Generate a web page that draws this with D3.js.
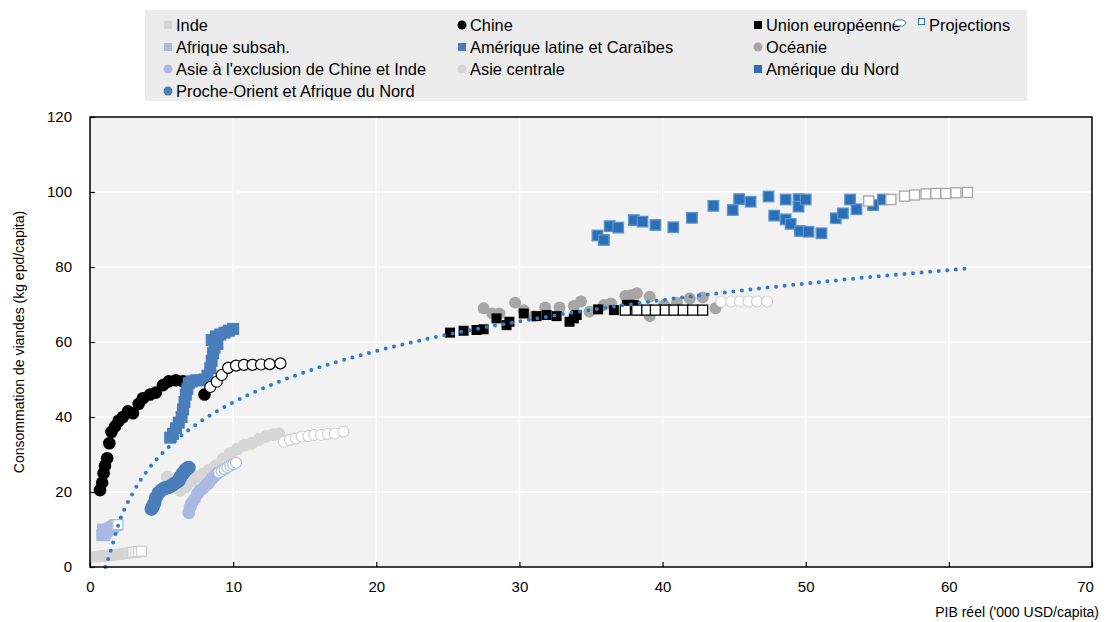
<!DOCTYPE html>
<html>
<head>
<meta charset="utf-8">
<script src="https://cdn.jsdelivr.net/npm/d3@7"></script>
<style>
  body { margin: 0; background: #fff; }
  text { font-family: "Liberation Sans", Arial, sans-serif; fill: #000; }
</style>
</head>
<body>
<div id="app"></div>
<script>
// historical series (x = PIB '000 USD/capita, y = kg epd/capita)
const indeX = [0.4, 0.6, 0.8, 1.0, 1.2, 1.4, 1.6, 1.8, 2.0, 2.2, 2.4, 2.6, 2.8];
const indeY = [2.7, 2.8, 2.9, 3.0, 3.0, 3.1, 3.2, 3.3, 3.4, 3.5, 3.6, 3.7, 3.8];
const indeProjX = [3.0, 3.2, 3.4, 3.6];
const indeProjY = [3.9, 4.0, 4.1, 4.2];

const afriqueX = [0.85, 0.9, 1.0, 1.05, 1.1, 1.2, 1.3, 1.4, 1.5, 1.6, 1.7, 1.8];
const afriqueY = [8.5, 10.0, 8.5, 9.0, 9.5, 9.8, 10.0, 10.3, 10.5, 10.7, 11.0, 11.2];
const afriqueProjX = [1.85, 1.95];
const afriqueProjY = [11.1, 11.3];

const asieX = [6.9, 7.0, 7.1, 7.3, 7.5, 7.7, 7.9, 8.1, 8.3, 8.5, 8.7, 8.9];
const asieY = [14.5, 16.0, 17.0, 18.0, 19.5, 20.5, 21.0, 21.8, 22.5, 23.5, 24.2, 25.0];
const asieProjX = [9.0, 9.2, 9.4, 9.6, 9.8, 10.0, 10.2];
const asieProjY = [25.2, 25.6, 26.1, 26.6, 27.0, 27.4, 27.8];

const procheX = [4.3, 4.4, 4.5, 4.6, 4.8, 5.0, 5.2, 5.4, 5.6, 5.8, 6.0, 6.2, 6.3, 6.4, 6.5, 6.6, 6.7, 6.8, 6.9];
const procheY = [15.5, 16.2, 17.0, 18.5, 19.8, 20.5, 21.0, 21.2, 21.5, 22.0, 22.5, 23.0, 23.8, 24.5, 25.0, 25.5, 26.0, 26.3, 26.5];

const chineX = [0.7, 0.85, 0.95, 1.05, 1.2, 1.35, 1.5, 1.75, 2.0, 2.3, 2.65, 3.0, 3.4, 3.7, 4.2, 4.6, 5.1, 5.5, 6.0, 6.5, 7.0, 8.0];
const chineY = [20.5, 22.5, 25.0, 27.0, 29.0, 33.0, 36.0, 37.5, 39.0, 40.0, 41.5, 41.0, 43.5, 45.0, 46.0, 46.5, 48.5, 49.5, 49.8, 49.5, 49.0, 46.0];
const chineProjX = [8.4, 8.85, 9.2, 9.65, 10.2, 10.75, 11.35, 11.95, 12.55, 13.3];
const chineProjY = [48.0, 49.4, 51.2, 53.1, 53.7, 53.9, 53.9, 54.0, 54.1, 54.3];

const ueX = [25.15, 26.1, 27.0, 27.5, 28.4, 29.1, 29.3, 30.3, 31.2, 31.9, 32.6, 33.5, 33.8, 34.0, 35.5, 36.6, 37.5, 38.0];
const ueY = [62.5, 63.0, 63.2, 63.4, 66.3, 64.5, 65.4, 67.6, 66.9, 67.2, 66.9, 65.4, 66.3, 67.2, 68.7, 68.5, 69.9, 69.9];
const ueProjX = [37.4, 38.2, 38.9, 39.5, 40.2, 40.8, 41.45, 42.1, 42.8];
const ueProjY = [68.5, 68.5, 68.5, 68.5, 68.5, 68.5, 68.5, 68.5, 68.5];

const latamX = [5.6, 5.8, 6.0, 6.2, 6.4, 6.5, 6.6, 6.7, 6.8, 6.9, 7.1, 7.4, 7.7, 8.0, 8.2, 8.4, 8.5, 8.6, 8.7, 8.9, 8.5, 8.8, 9.1, 9.4, 9.7, 10.0];
const latamY = [34.5, 35.5, 37.0, 38.5, 40.0, 42.0, 44.0, 46.0, 47.5, 49.0, 49.5, 49.8, 49.8, 50.0, 51.0, 53.0, 55.0, 57.0, 58.5, 59.5, 60.5, 61.5, 62.0, 62.5, 63.0, 63.5];

const oceanieX = [27.5, 28.1, 28.6, 29.7, 30.3, 31.0, 31.8, 32.8, 33.8, 34.3, 34.9, 35.9, 36.4, 37.4, 37.8, 38.2, 39.1, 39.1, 40.1, 41.0, 41.9, 42.8, 43.7];
const oceanieY = [69.0, 67.6, 67.6, 70.5, 68.5, 66.9, 69.2, 69.2, 69.6, 70.8, 68.1, 69.9, 70.3, 72.3, 72.5, 73.0, 72.1, 66.9, 69.9, 70.5, 71.6, 71.9, 69.0];
const oceanieProjX = [44.1, 44.8, 45.4, 46.0, 46.6, 47.3];
const oceanieProjY = [70.8, 70.8, 70.8, 70.8, 70.8, 70.8];

const centraleX = [5.4, 5.7, 6.0, 6.3, 6.7, 7.1, 7.5, 7.9, 8.3, 8.8, 9.3, 9.8, 10.3, 10.8, 11.3, 11.8, 12.3, 12.8, 13.2];
const centraleY = [24.0, 22.5, 21.5, 20.5, 21.5, 23.0, 24.0, 24.8, 25.8, 27.0, 28.8, 30.3, 31.5, 32.5, 33.0, 34.0, 34.8, 35.3, 35.5];
const centraleProjX = [13.55, 13.97, 14.37, 14.79, 15.25, 15.67, 16.14, 16.6, 17.1, 17.7];
const centraleProjY = [33.4, 33.9, 34.3, 34.8, 34.9, 35.2, 35.2, 35.5, 35.6, 36.1];

const nordX = [35.45, 35.9, 36.3, 36.9, 38.0, 38.6, 39.5, 40.75, 42.05, 43.55, 44.9, 45.35, 46.15, 47.4, 47.8, 48.6, 48.6, 48.95, 49.5, 49.5, 50.0, 49.6, 50.2, 51.1, 52.1, 52.6, 53.55, 54.7, 53.1, 55.4];
const nordY = [88.4, 87.2, 90.9, 90.5, 92.5, 92.1, 91.2, 90.6, 93.1, 96.3, 95.2, 98.1, 97.4, 98.8, 93.7, 98.0, 92.7, 91.5, 98.1, 96.1, 98.0, 89.6, 89.4, 89.0, 93.0, 94.3, 95.4, 96.5, 98.0, 98.0];
const nordProjX = [54.4, 55.95, 56.9, 57.6, 58.4, 59.1, 59.8, 60.5, 61.3];
const nordProjY = [97.6, 98.0, 98.9, 99.2, 99.5, 99.6, 99.6, 99.8, 99.9];

// dotted trend curve
const trendX = [1.08, 1.5, 2, 3, 4, 5, 6, 8, 10, 13, 16, 20, 25, 30, 35, 40, 45, 50, 55, 61.6];
const trendY = [0.0, 5.0, 11.5, 19.8, 25.7, 30.1, 33.8, 39.5, 43.9, 49.1, 53.2, 57.6, 62.0, 65.5, 68.6, 71.2, 73.5, 75.6, 77.5, 79.7];

const xTicks = [0, 10, 20, 30, 40, 50, 60, 70];
const yTicks = [0, 20, 40, 60, 80, 100, 120];

const W = 1105, H = 622;
const m = { left: 90, right: 1092, top: 117, bottom: 567 };

const svg = d3.select("#app").append("svg").attr("width", W).attr("height", H);

const x = d3.scaleLinear().domain([0, 70]).range([m.left, m.right]);
const y = d3.scaleLinear().domain([0, 120]).range([m.bottom, m.top]);

// plot background + grid
svg.append("rect")
  .attr("x", m.left).attr("y", m.top)
  .attr("width", m.right - m.left).attr("height", m.bottom - m.top)
  .attr("fill", "#f2f2f2");

svg.append("g").selectAll("line").data(yTicks.slice(1, -1)).join("line")
  .attr("x1", m.left).attr("x2", m.right)
  .attr("y1", d => y(d)).attr("y2", d => y(d))
  .attr("stroke", "#fff").attr("stroke-width", 1.5);
svg.append("g").selectAll("line").data(xTicks.slice(1, -1)).join("line")
  .attr("y1", m.top).attr("y2", m.bottom)
  .attr("x1", d => x(d)).attr("x2", d => x(d))
  .attr("stroke", "#fff").attr("stroke-width", 1.5);

const plot = svg.append("g");

function pts(xs, ys) { return xs.map((v, i) => [v, ys[i]]); }

function circles(xs, ys, fill, stroke, r) {
  plot.append("g").selectAll("circle").data(pts(xs, ys)).join("circle")
    .attr("cx", d => x(d[0])).attr("cy", d => y(d[1]))
    .attr("r", r || 6)
    .attr("fill", fill)
    .attr("stroke", stroke || "none").attr("stroke-width", 1.2);
}
function squares(xs, ys, fill, stroke, s) {
  s = s || 11;
  plot.append("g").selectAll("rect").data(pts(xs, ys)).join("rect")
    .attr("x", d => x(d[0]) - s / 2).attr("y", d => y(d[1]) - s / 2)
    .attr("width", s).attr("height", s)
    .attr("fill", fill)
    .attr("stroke", stroke || "none").attr("stroke-width", 1.3);
}

squares(indeX, indeY, "#d4d4d4");
circles(centraleX, centraleY, "#d6d6d6", null, 6.5);
circles(procheX, procheY, "#4a7ebb", null, 7);
circles(asieX, asieY, "#a9b9e2", null, 6.5);
squares(afriqueX, afriqueY, "#a9b9e2", null, 12);
circles(chineX, chineY, "#000", null, 6.3);
squares(latamX, latamY, "#4a7ebb", null, 12);
circles(oceanieX, oceanieY, "#a6a6a6");
squares(ueX, ueY, "#000", null, 10);
squares(nordX, nordY, "#2a6fb7", "#5b93cc", 10.5);

// projections
squares(indeProjX, indeProjY, "#fff", "#cfcfcf", 10);
squares(afriqueProjX, afriqueProjY, "#fff", "#a9b9e2", 10);
circles(asieProjX, asieProjY, "#fff", "#a9b9e2", 5.5);
circles(centraleProjX, centraleProjY, "#fff", "#d0d0d0", 5.5);
circles(chineProjX, chineProjY, "#fff", "#000", 5.5);
circles(oceanieProjX, oceanieProjY, "#fff", "#d0d0d0", 5.5);
squares(ueProjX, ueProjY, "#fff", "#000", 10);
squares(nordProjX, nordProjY, "#fff", "#a6a6a6", 10);

// trend
plot.append("path")
  .datum(pts(trendX, trendY))
  .attr("d", d3.line().x(d => x(d[0])).y(d => y(d[1])).curve(d3.curveMonotoneX))
  .attr("fill", "none")
  .attr("stroke", "#2f7bcb")
  .attr("stroke-width", 4)
  .attr("stroke-linecap", "round")
  .attr("stroke-dasharray", "0 8.6");

// frame
svg.append("rect")
  .attr("x", m.left).attr("y", m.top)
  .attr("width", m.right - m.left).attr("height", m.bottom - m.top)
  .attr("fill", "none").attr("stroke", "#000").attr("stroke-width", 1.5);

// axes (ticks pointing inwards)
const xAxis = svg.append("g")
  .attr("transform", `translate(0,${m.bottom})`)
  .call(d3.axisBottom(x).tickValues(xTicks).tickSize(-5).tickPadding(14).tickFormat(d3.format("d")));
const yAxis = svg.append("g")
  .attr("transform", `translate(${m.left},0)`)
  .call(d3.axisLeft(y).tickValues(yTicks).tickSize(-5).tickPadding(18).tickFormat(d3.format("d")));
[xAxis, yAxis].forEach(a => {
  a.select(".domain").remove();
  a.selectAll(".tick line").attr("stroke", "#000").attr("stroke-width", 1.2);
  a.selectAll("text").attr("font-size", 15).attr("font-family", "Liberation Sans, Arial, sans-serif");
});
xAxis.selectAll(".tick").filter(d => d === 70).select("text").attr("dx", -7);

svg.append("text")
  .attr("transform", "translate(24,342) rotate(-90)")
  .attr("text-anchor", "middle")
  .attr("font-size", 14)
  .text("Consommation de viandes (kg epd/capita)");
svg.append("text")
  .attr("x", 1099).attr("y", 617)
  .attr("text-anchor", "end")
  .attr("font-size", 14)
  .text("PIB réel ('000 USD/capita)");

// legend
const legend = svg.append("g");
legend.append("rect").attr("x", 145).attr("y", 10).attr("width", 882).attr("height", 91).attr("fill", "#ececec");

const legendNames = ["Inde", "Chine", "Union européenne",
  "Afrique subsah.", "Amérique latine et Caraïbes", "Océanie",
  "Asie à l'exclusion de Chine et Inde", "Asie centrale", "Amérique du Nord",
  "Proche-Orient et Afrique du Nord"];
const legendShapes = ["square", "circle", "square", "square", "square", "circle", "circle", "circle", "square", "circle"];
const legendColors = ["#d4d4d4", "#000", "#000", "#a9b9e2", "#4a7ebb", "#a6a6a6", "#a9b9e2", "#d6d6d6", "#2a6fb7", "#4a7ebb"];
const colX = [168, 462, 758];
const rowY = [25, 47, 69, 91];

legendNames.forEach((name, i) => {
  const cx = colX[i % 3], cy = rowY[Math.floor(i / 3)];
  if (legendShapes[i] === "square") {
    legend.append("rect").attr("x", cx - 4).attr("y", cy - 4).attr("width", 8).attr("height", 8).attr("fill", legendColors[i]);
  } else {
    legend.append("circle").attr("cx", cx).attr("cy", cy).attr("r", 4.5).attr("fill", legendColors[i]);
  }
  legend.append("text").attr("x", cx + 8).attr("y", cy + 6).attr("font-size", 16.4).text(name);
});
// projection key
legend.append("ellipse").attr("cx", 900).attr("cy", 23).attr("rx", 6).attr("ry", 3.2)
  .attr("fill", "#fff").attr("stroke", "#2e75b6").attr("stroke-width", 1);
legend.append("rect").attr("x", 918.5).attr("y", 18.5).attr("width", 6).attr("height", 6)
  .attr("fill", "#fff").attr("stroke", "#2e75b6").attr("stroke-width", 1);
legend.append("text").attr("x", 929).attr("y", 31).attr("font-size", 16.4).text("Projections");
</script>
</body>
</html>
